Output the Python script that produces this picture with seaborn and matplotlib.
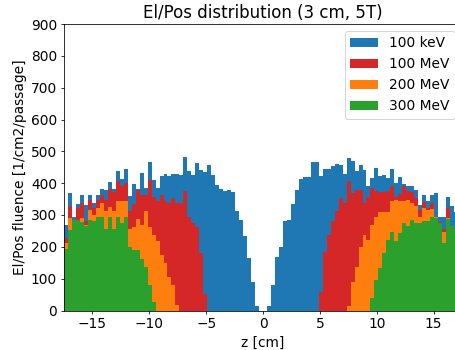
import numpy as np
import pandas as pd
import matplotlib
matplotlib.use("Agg")
import matplotlib.pyplot as plt
import seaborn as sns

# histogram binning: 100 bins over z in [-17.5, 17.5]
z_min, z_max, n_bins = -17.5, 17.5, 100
edges = np.linspace(z_min, z_max, n_bins + 1)
centers = 0.5 * (edges[:-1] + edges[1:])

labels = ["100 keV", "100 MeV", "200 MeV", "300 MeV"]
colors = ["#1f77b4", "#d62728", "#ff7f0e", "#2ca02c"]

kev100 = [269, 369, 293, 335, 364, 332, 364, 337, 364, 382,
          380, 403, 382, 439, 413, 443, 361, 398, 382, 432,
          385, 466, 411, 385, 421, 430, 424, 430, 428, 427,
          482, 437, 427, 463, 442, 435, 456, 427, 395, 383,
          374, 379, 372, 314, 285, 235, 164, 91, 15, 0,
          0, 15, 80, 167, 201, 280, 283, 335, 377, 414,
          418, 418, 465, 465, 421, 443, 445, 455, 460, 458,
          429, 479, 469, 437, 458, 442, 390, 416, 448, 421,
          425, 416, 445, 400, 420, 398, 392, 392, 380, 332,
          364, 343, 364, 370, 295, 295, 356, 327, 310, 310]

mev100 = [227, 329, 262, 322, 337, 280, 348, 322, 348, 364,
          348, 382, 371, 406, 390, 400, 311, 335, 380, 364,
          364, 411, 358, 343, 364, 343, 337, 353, 337, 337,
          374, 293, 274, 262, 180, 52, 0, 0, 0, 0,
          0, 0, 0, 0, 0, 0, 0, 0, 0, 0,
          0, 0, 0, 0, 0, 0, 0, 0, 0, 0,
          0, 0, 0, 0, 59, 185, 238, 280, 311, 353,
          337, 406, 369, 380, 380, 337, 358, 385, 374, 371,
          371, 375, 390, 358, 367, 390, 374, 371, 353, 317,
          340, 322, 337, 295, 277, 255, 322, 259, 259, 255]

mev200 = [212, 290, 232, 285, 290, 269, 316, 301, 322, 337,
          313, 324, 313, 343, 345, 345, 256, 262, 287, 269,
          311, 262, 238, 217, 175, 148, 106, 80, 17, 0,
          0, 0, 0, 0, 0, 0, 0, 0, 0, 0,
          0, 0, 0, 0, 0, 0, 0, 0, 0, 0,
          0, 0, 0, 0, 0, 0, 0, 0, 0, 0,
          0, 0, 0, 0, 0, 0, 0, 0, 0, 0,
          0, 14, 91, 138, 201, 238, 222, 269, 295, 308,
          308, 310, 343, 348, 345, 343, 348, 337, 327, 295,
          322, 316, 320, 293, 248, 248, 290, 264, 255, 250]

mev300 = [193, 253, 285, 285, 277, 266, 285, 280, 293, 293,
          256, 293, 256, 293, 274, 293, 201, 190, 190, 161,
          138, 80, 28, 0, 0, 0, 0, 0, 0, 0,
          0, 0, 0, 0, 0, 0, 0, 0, 0, 0,
          0, 0, 0, 0, 0, 0, 0, 0, 0, 0,
          0, 0, 0, 0, 0, 0, 0, 0, 0, 0,
          0, 0, 0, 0, 0, 0, 0, 0, 0, 0,
          0, 0, 0, 0, 0, 0, 0, 38, 96, 133,
          180, 222, 248, 219, 243, 274, 264, 285, 274, 274,
          280, 280, 293, 290, 274, 211, 287, 264, 255, 250]

series = [kev100, mev100, mev200, mev300]

DPI = 455 / 6.4
fig = plt.figure(figsize=(6.4, 350 / DPI), dpi=DPI)
ax = fig.add_axes([64 / 455, 39.5 / 350, (462 - 64) / 455, 286.5 / 350])

for lab, col, vals in zip(labels, colors, series):
    df = pd.DataFrame({"z": centers, "w": vals})
    sns.histplot(data=df, x="z", weights="w", bins=n_bins,
                 binrange=(z_min, z_max), element="step",
                 fill=True, alpha=1.0, color=col, linewidth=0,
                 label=lab, ax=ax)

ax.set_xlim(z_min, z_max)
ax.set_ylim(0, 900)
ax.set_xticks([-15, -10, -5, 0, 5, 10, 15])
ax.set_yticks(np.arange(0, 901, 100))
ax.tick_params(labelsize=14)
ax.set_xlabel("z [cm]", fontsize=14)
ax.set_ylabel("El/Pos fluence [1/cm2/passage]", fontsize=14)
ax.set_title("El/Pos distribution (3 cm, 5T)", fontsize=16.8)
ax.legend(loc="upper right", fontsize=14)

fig.savefig("out.png", dpi=DPI)
